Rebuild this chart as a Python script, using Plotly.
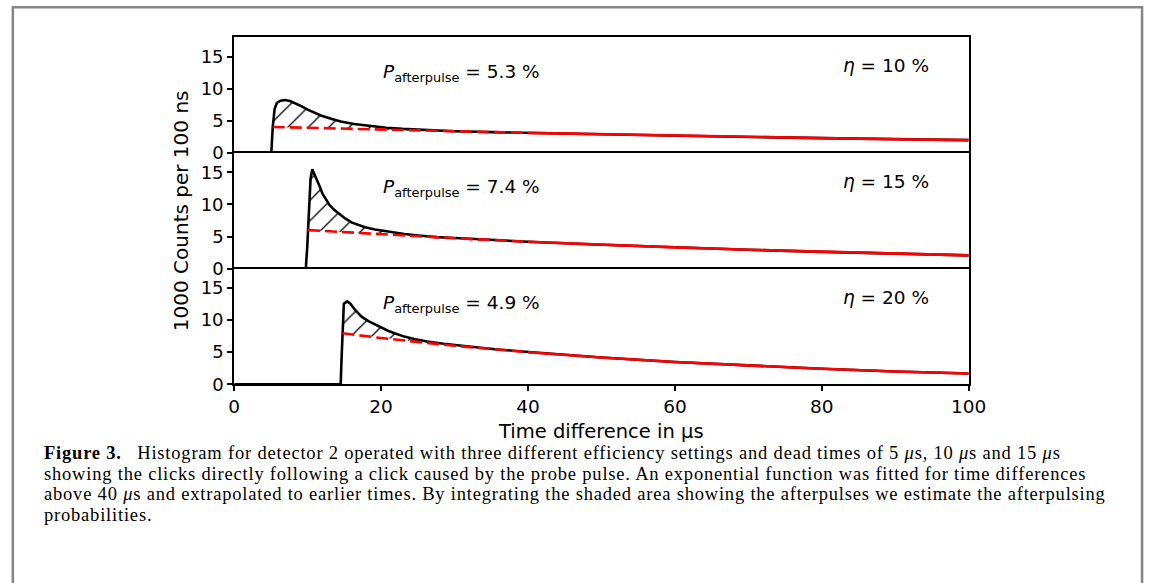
import plotly.graph_objects as go
from plotly.subplots import make_subplots

W, H = 1163, 583

# ---------------- data ----------------
efficiency = ["10 %", "15 %", "20 %"]
p_afterpulse = ["5.3 %", "7.4 %", "4.9 %"]
hatch_end = [30, 30, 40]

# panel 1: dead time 5 us
c1_x = [0, 5.05, 5.15, 5.25, 5.5, 5.8, 6.3, 6.9, 7.6, 8.3, 9.2, 10.0, 10.9, 11.8, 13.2, 14.5, 16.3, 18.5,
        20.7, 22.9, 25.2, 27.4, 30, 35, 40, 50, 60, 70, 80, 90, 100]
c1_y = [0, 0, 2.0, 4.05, 6.86, 7.78, 8.14, 8.24, 8.09, 7.78, 7.27, 6.75, 6.25, 5.84, 5.32, 4.91, 4.5, 4.2,
        3.94, 3.76, 3.62, 3.5, 3.39, 3.25, 3.13, 2.9, 2.7, 2.5, 2.32, 2.15, 2.0]
f1_x = [5.25, 10, 20, 30, 40, 50, 60, 70, 80, 90, 100]
f1_y = [4.05, 3.91, 3.63, 3.37, 3.13, 2.9, 2.7, 2.5, 2.32, 2.15, 2.0]

# panel 2: dead time 10 us
c2_x = [0, 9.75, 9.95, 10.05, 10.2, 10.4, 10.63, 11.16, 11.6, 12.04, 12.49, 12.93, 13.6, 14.27, 15.16, 16.04,
        16.93, 17.82, 19.16, 20.93, 23.16, 25.4, 27.6, 30, 33.8, 40, 50, 60, 70, 80, 90, 100]
c2_y = [0, 0, 3.5, 6.0, 10.0, 14.0, 15.46, 14.18, 12.9, 11.62, 10.75, 9.98, 9.16, 8.55, 7.78, 7.16,
        6.76, 6.45, 6.09, 5.73, 5.38, 5.12, 4.9, 4.78, 4.52, 4.19, 3.73, 3.31, 2.94, 2.61, 2.32, 2.06]
f2_x = [10.05, 20, 30, 40, 50, 60, 70, 80, 90, 100]
f2_y = [6.0, 5.33, 4.73, 4.19, 3.73, 3.31, 2.94, 2.61, 2.32, 2.06]

# panel 3: dead time 15 us
c3_x = [0, 14.5, 14.6, 14.75, 14.93, 15.38, 15.82, 16.49, 17.38, 18.27, 19.16, 20.04, 20.93, 21.82, 23.16,
        24.49, 26.27, 28.49, 30.71, 32.93, 35.16, 39.2, 50, 60, 70, 80, 90, 100]
c3_y = [0, 0, 3.5, 7.94, 12.54, 12.9, 12.54, 11.52, 10.49, 9.83, 9.32, 8.86, 8.34, 7.94, 7.42,
        7.06, 6.65, 6.3, 6.0, 5.75, 5.5, 5.1, 4.17, 3.47, 2.89, 2.41, 2.0, 1.68]
f3_x = [14.75, 20, 30, 40, 50, 60, 70, 80, 90, 100]
f3_y = [7.94, 7.2, 5.99, 5.0, 4.17, 3.47, 2.89, 2.41, 2.0, 1.68]

x_ticks = [0, 20, 40, 60, 80, 100]
y_ticks = [0, 5, 10, 15]

panels = [(c1_x, c1_y, f1_x, f1_y), (c2_x, c2_y, f2_x, f2_y), (c3_x, c3_y, f3_x, f3_y)]

# ---------------- figure ----------------
fig = make_subplots(rows=3, cols=1, shared_xaxes=True, vertical_spacing=0)

FONT = "DejaVu Sans"
for i, (cx, cy, fx, fy) in enumerate(panels):
    row = i + 1
    he = hatch_end[i]
    # hatched polygon between curve and fit
    hc = [(x, y) for x, y in zip(cx, cy) if fx[0] <= x <= he]
    hf = [(x, y) for x, y in zip(fx, fy) if x <= he]
    poly_x = [p[0] for p in hc] + [p[0] for p in hf[::-1]]
    poly_y = [p[1] for p in hc] + [p[1] for p in hf[::-1]]
    fig.add_trace(go.Scatter(x=poly_x, y=poly_y, mode="lines", fill="toself",
                             line=dict(width=0, color="rgba(0,0,0,0)"),
                             fillcolor="rgba(0,0,0,0)",
                             fillpattern=dict(shape="/", fgcolor="black", fgopacity=1,
                                              bgcolor="rgba(0,0,0,0)",
                                              size=14.5, solidity=0.09, fillmode="overlay"),
                             hoverinfo="skip", showlegend=False), row=row, col=1)
    # black histogram curve
    fig.add_trace(go.Scatter(x=cx, y=cy, mode="lines",
                             line=dict(color="black", width=2.6),
                             showlegend=False), row=row, col=1)
    # red fit: dashed extrapolation, solid fit region
    dx = [x for x in fx if x <= 40]
    dy = [y for x, y in zip(fx, fy) if x <= 40]
    sx = [x for x in fx if x >= 40]
    sy = [y for x, y in zip(fx, fy) if x >= 40]
    fig.add_trace(go.Scatter(x=dx, y=dy, mode="lines",
                             line=dict(color="red", width=2.6, dash="12px,5px"),
                             showlegend=False), row=row, col=1)
    fig.add_trace(go.Scatter(x=sx, y=sy, mode="lines", line=dict(color="red", width=2.6),
                             showlegend=False), row=row, col=1)

xdom = [233 / W, 983 / W]
tops = [38, 155.67, 273.33]
bots = [155.67, 273.33, 391]
for i in range(3):
    sfx = "" if i == 0 else str(i + 1)
    fig.layout["yaxis" + sfx].update(
        domain=[1 - bots[i] / H, 1 - tops[i] / H], range=[0, 18], tickvals=y_ticks,
        ticks="outside", ticklen=5, tickwidth=1.5, tickcolor="black",
        showline=True, mirror=True, linecolor="black", linewidth=2,
        showgrid=False, zeroline=False, tickfont=dict(family=FONT, size=18, color="black"))
    if i < 2:
        xa = dict(side="top", mirror=False, ticks="", showticklabels=False)
    else:
        xa = dict(side="bottom", mirror=True, ticks="outside", showticklabels=True)
    fig.layout["xaxis" + sfx].update(
        domain=xdom, range=[0, 100], tickvals=x_ticks,
        ticklen=5, tickwidth=1.5, tickcolor="black",
        showline=True, linecolor="black", linewidth=2,
        showgrid=False, zeroline=False, tickfont=dict(family=FONT, size=18.5, color="black"), **xa)

ann = []
for i in range(3):
    off = i * 117.67
    ann.append(dict(text="<i>P</i><sub>afterpulse</sub> = " + p_afterpulse[i],
                    x=383 / W, y=1 - (74 + off) / H, xref="paper", yref="paper",
                    xanchor="left", yanchor="middle", showarrow=False,
                    font=dict(family=FONT, size=18.5, color="black")))
    ann.append(dict(text="<i>η</i> = " + efficiency[i],
                    x=944 / W, y=1 - (67 + off) / H, xref="paper", yref="paper",
                    xanchor="right", yanchor="middle", showarrow=False,
                    font=dict(family=FONT, size=18.5, color="black")))

ann.append(dict(text="1000 Counts per 100 ns", textangle=-90, x=178 / W, y=1 - 214.5 / H,
                xref="paper", yref="paper", xanchor="center", yanchor="middle", showarrow=False,
                font=dict(family=FONT, size=20, color="black")))
ann.append(dict(text="Time difference in µs", x=608 / W, y=1 - 439 / H,
                xref="paper", yref="paper", xanchor="center", yanchor="middle", showarrow=False,
                font=dict(family=FONT, size=19.5, color="black")))

caption = [
    "<b>Figure 3.</b>\u2002 Histogram for detector 2 operated with three different efficiency settings and dead times of 5 <i>μ</i>s, 10 <i>μ</i>s and 15 <i>μ</i>s",
    "showing the clicks directly following a click caused by the probe pulse. An exponential function was fitted for time differences",
    "above 40 <i>μ</i>s and extrapolated to earlier times. By integrating the shaded area showing the afterpulses we estimate the afterpulsing",
    "probabilities.",
]
for k, line in enumerate(caption):
    ann.append(dict(text='<span style="letter-spacing:0.8px">' + line + "</span>",
                    x=37 / W, y=1 - (461 + 21 * k) / H, xref="paper", yref="paper",
                    xanchor="left", yanchor="middle", showarrow=False, align="left",
                    font=dict(family="Liberation Serif", size=18.5, color="black")))

fig.update_layout(
    width=W, height=H, margin=dict(l=0, r=0, t=0, b=0),
    paper_bgcolor="white", plot_bgcolor="white", showlegend=False,
    annotations=ann,
    shapes=[dict(type="rect", xref="paper", yref="paper", x0=7 / W, x1=1160 / W,
                 y0=-0.2, y1=1 - 7.3 / H, line=dict(color="#858585", width=2.5),
                 fillcolor="rgba(0,0,0,0)", layer="below")],
)

fig.write_html("out.html",
               post_script="document.body.style.margin='0';document.body.style.overflow='hidden';")
